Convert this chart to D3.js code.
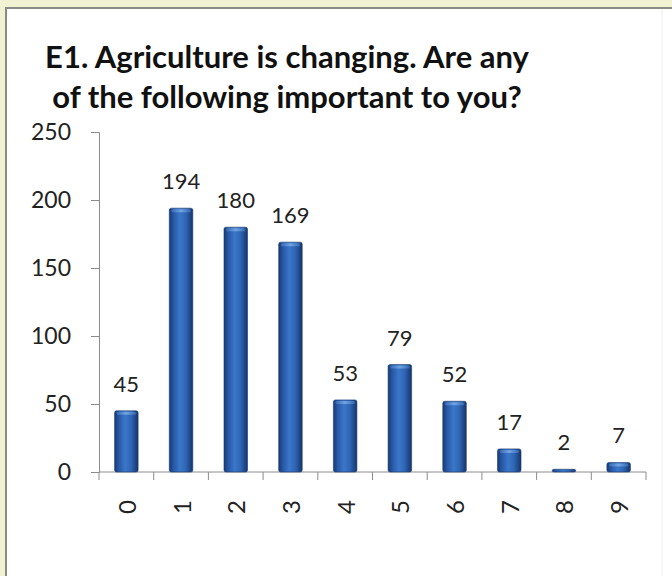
<!DOCTYPE html>
<html>
<head>
<meta charset="utf-8">
<script src="https://cdn.jsdelivr.net/npm/d3@7"></script>
<style>
html,body{margin:0;padding:0;background:#f2f1d2;}
svg{display:block;}
</style>
</head>
<body>
<script>
const categories = ["0","1","2","3","4","5","6","7","8","9"];
const values = [45,194,180,169,53,79,52,17,2,7];
const yTicks = [0,50,100,150,200,250];
const titleLines = ["E1. Agriculture is changing. Are any","of the following important to you?"];

const W = 672, H = 576;
const svg = d3.select("body").append("svg").attr("width", W).attr("height", H);
const font = "Lato, 'Open Sans', sans-serif";

const defs = svg.append("defs");
const g1 = defs.append("linearGradient").attr("id","barGrad").attr("x1","0").attr("x2","1").attr("y1","0").attr("y2","0");
g1.append("stop").attr("offset","0%").attr("stop-color","#173a72");
g1.append("stop").attr("offset","18%").attr("stop-color","#2758a6");
g1.append("stop").attr("offset","45%").attr("stop-color","#3b77c9");
g1.append("stop").attr("offset","70%").attr("stop-color","#2f66b5");
g1.append("stop").attr("offset","100%").attr("stop-color","#16356a");
const g2 = defs.append("linearGradient").attr("id","capGrad").attr("x1","0").attr("x2","1");
g2.append("stop").attr("offset","0%").attr("stop-color","#3a6fb8");
g2.append("stop").attr("offset","50%").attr("stop-color","#7fb0ea");
g2.append("stop").attr("offset","100%").attr("stop-color","#3a6fb8");

// panel
svg.append("rect").attr("x",5).attr("y",7).attr("width",W).attr("height",H).attr("fill","#8a8a86");
svg.append("rect").attr("x",7).attr("y",9).attr("width",W).attr("height",H).attr("fill","#ffffff");
svg.append("line").attr("x1",662).attr("x2",662).attr("y1",9).attr("y2",H).attr("stroke","#eeeeee").attr("stroke-width",1);

// title
svg.append("g").selectAll("text").data(titleLines).join("text")
  .attr("x", 287).attr("y", (d,i)=> 68 + i*40)
  .attr("text-anchor","middle")
  .attr("font-family", font).attr("font-weight","bold").attr("font-size", 31)
  .attr("fill","#111").text(d=>d);

const x = d3.scaleBand().domain(categories).range([99, 646]).paddingInner(0.57).paddingOuter(0.285);
const y = d3.scaleLinear().domain([0,250]).range([472,132]);

// y axis
const yAxis = svg.append("g").attr("transform","translate(99,0)")
  .call(d3.axisLeft(y).tickValues(yTicks).tickSize(8).tickPadding(20));
yAxis.select(".domain").attr("stroke","#8c8c8c");
yAxis.selectAll(".tick line").attr("stroke","#8c8c8c");
yAxis.selectAll("text").attr("font-family",font).attr("font-size",23).attr("fill","#222");

// x axis
const xAxisG = svg.append("g");
xAxisG.append("line").attr("x1",99).attr("x2",646).attr("y1",y(0)).attr("y2",y(0)).attr("stroke","#8c8c8c");
const bounds = d3.range(categories.length+1).map(i => 99 + i*x.step());
xAxisG.selectAll(".xt").data(bounds).join("line")
  .attr("x1",d=>d).attr("x2",d=>d).attr("y1",y(0)).attr("y2",y(0)+8).attr("stroke","#8c8c8c");
xAxisG.selectAll(".xl").data(categories).join("text")
  .attr("transform", d=>`translate(${x(d)+x.bandwidth()/2},507) rotate(-90)`)
  .attr("text-anchor","middle").attr("dominant-baseline","central")
  .attr("font-family",font).attr("font-size",24).attr("fill","#222").text(d=>d);

// bars
const data = categories.map((c,i)=>({c, v: values[i]}));
const bars = svg.append("g");
bars.selectAll("rect.bar").data(data).join("rect").attr("class","bar")
  .attr("x", d=>x(d.c)).attr("width", x.bandwidth())
  .attr("y", d=>y(d.v)).attr("height", d=>y(0)-y(d.v))
  .attr("rx",2).attr("fill","url(#barGrad)").attr("stroke","#1a3a70").attr("stroke-width",0.6);
bars.selectAll("rect.cap").data(data.filter(d=>y(0)-y(d.v) > 6)).join("rect").attr("class","cap")
  .attr("x", d=>x(d.c)+2).attr("width", x.bandwidth()-4)
  .attr("y", d=>y(d.v)+1).attr("height", 3).attr("rx",1.5)
  .attr("fill","url(#capGrad)").attr("opacity",0.8);

// value labels
svg.append("g").selectAll("text").data(data).join("text")
  .attr("x", d=>x(d.c)+x.bandwidth()/2).attr("y", d=>y(d.v)-19)
  .attr("text-anchor","middle")
  .attr("font-family",font).attr("font-size",22).attr("fill","#222").text(d=>d.v);
</script>
</body>
</html>
